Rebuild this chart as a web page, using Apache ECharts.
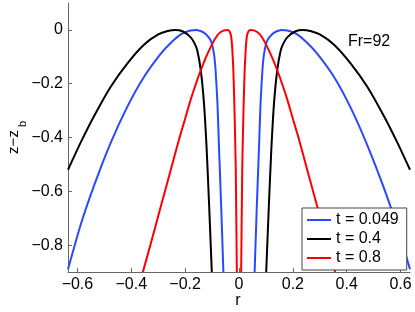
<!DOCTYPE html>
<html>
<head>
<meta charset="utf-8">
<script src="https://cdn.jsdelivr.net/npm/echarts@6/dist/echarts.min.js"></script>
<style>html,body{margin:0;padding:0;background:#fff}#c{width:415px;height:312px}</style>
</head>
<body>
<div id="c"></div>
<script>
var xTicks = [-0.6, -0.4, -0.2, 0, 0.2, 0.4, 0.6];
var yTicks = [-0.8, -0.6, -0.4, -0.2, 0];
var seriesNames = ['t = 0.049', 't = 0.4', 't = 0.8'];

var blueLeft = [[-0.635,-0.89],[-0.589,-0.728],[-0.539,-0.581],[-0.477,-0.421],[-0.415,-0.286],[-0.353,-0.175],[-0.291,-0.089],[-0.25,-0.045],[-0.21,-0.013],[-0.18,-0.002],[-0.158,0],[-0.138,-0.006],[-0.122,-0.017],[-0.105,-0.039],[-0.093,-0.089],[-0.087,-0.15],[-0.080,-0.273],[-0.074,-0.445],[-0.066,-0.66],[-0.058,-0.9]];
var blueRight = [[0.058,-0.9],[0.066,-0.66],[0.074,-0.445],[0.080,-0.273],[0.087,-0.15],[0.093,-0.089],[0.105,-0.039],[0.122,-0.017],[0.138,-0.006],[0.158,0],[0.18,-0.002],[0.21,-0.013],[0.25,-0.045],[0.291,-0.089],[0.353,-0.175],[0.415,-0.29],[0.477,-0.43],[0.539,-0.59],[0.589,-0.735],[0.635,-0.89]];

var blackLeft = [[-0.635,-0.52],[-0.589,-0.421],[-0.539,-0.322],[-0.477,-0.212],[-0.415,-0.125],[-0.353,-0.055],[-0.3,-0.017],[-0.265,-0.004],[-0.237,0],[-0.21,-0.005],[-0.18,-0.027],[-0.165,-0.05],[-0.155,-0.076],[-0.142,-0.15],[-0.130,-0.273],[-0.120,-0.445],[-0.111,-0.65],[-0.101,-0.9]];
var blackRight = [[0.101,-0.9],[0.111,-0.65],[0.120,-0.445],[0.130,-0.273],[0.142,-0.15],[0.155,-0.076],[0.165,-0.05],[0.18,-0.027],[0.21,-0.005],[0.237,0],[0.265,-0.004],[0.3,-0.017],[0.353,-0.055],[0.415,-0.125],[0.477,-0.212],[0.539,-0.322],[0.589,-0.421],[0.635,-0.52]];

var redLeft = [[-0.357,-0.9],[-0.328,-0.796],[-0.29,-0.655],[-0.256,-0.53],[-0.223,-0.408],[-0.2,-0.33],[-0.180,-0.261],[-0.16,-0.2],[-0.142,-0.150],[-0.122,-0.1],[-0.105,-0.064],[-0.09,-0.035],[-0.075,-0.014],[-0.058,-0.003],[-0.043,0],[-0.037,-0.003],[-0.033,-0.01],[-0.029,-0.025],[-0.025,-0.07],[-0.021,-0.15],[-0.018,-0.25],[-0.015,-0.37],[-0.012,-0.52],[-0.008,-0.9]];
var redRight = [[0.008,-0.9],[0.012,-0.52],[0.015,-0.37],[0.018,-0.25],[0.021,-0.15],[0.025,-0.07],[0.029,-0.025],[0.033,-0.01],[0.037,-0.003],[0.043,0],[0.058,-0.003],[0.075,-0.014],[0.09,-0.035],[0.105,-0.064],[0.122,-0.1],[0.142,-0.150],[0.16,-0.2],[0.180,-0.261],[0.2,-0.33],[0.223,-0.408],[0.256,-0.53],[0.29,-0.655],[0.328,-0.796],[0.357,-0.9]];

var colors = ['#2a48ff', '#000000', '#ff0000'];
var FONT = 'Liberation Sans, Arial, sans-serif';

function fmt(v) {
  var s = (Math.round(v * 10) / 10).toString();
  return s.replace('-', '\u2212');
}
function mk(name, left, right, color) {
  return {
    name: name, type: 'line', symbol: 'none', showSymbol: false, smooth: 0.2,
    connectNulls: false, clip: true,
    lineStyle: { color: color, width: 2 }, itemStyle: { color: color },
    data: left.concat([[null, null]], right)
  };
}

var chart = echarts.init(document.getElementById('c'));
chart.setOption({
  animation: false,
  backgroundColor: '#fff',
  grid: { left: 68, right: 5, top: 3, bottom: 40 },
  xAxis: {
    type: 'value', min: -0.635, max: 0.635,
    axisLine: { show: true, onZero: false, lineStyle: { color: '#666', width: 1 } },
    axisTick: { show: true, inside: true, length: 4, customValues: xTicks, lineStyle: { color: '#666' } },
    axisLabel: { customValues: xTicks, formatter: fmt, fontSize: 16, color: '#000', fontFamily: FONT, margin: 5 },
    splitLine: { show: false }
  },
  yAxis: {
    type: 'value', min: -0.9, max: 0.1,
    axisLine: { show: true, onZero: false, lineStyle: { color: '#666', width: 1 } },
    axisTick: { show: true, inside: true, length: 4, customValues: yTicks, lineStyle: { color: '#666' } },
    axisLabel: { customValues: yTicks, formatter: fmt, fontSize: 16, color: '#000', fontFamily: FONT, margin: 5 },
    splitLine: { show: false }
  },
  legend: {
    orient: 'vertical', left: 302, top: 208,
    data: seriesNames,
    icon: 'path://M0,0 L24,0 L24,2 L0,2 Z',
    itemWidth: 24, itemHeight: 2, itemGap: 3,
    padding: [4, 8, 4, 5],
    borderColor: '#444', borderWidth: 1, borderRadius: 0, backgroundColor: '#fff',
    textStyle: { fontSize: 16, color: '#000', fontFamily: FONT, lineHeight: 16 }
  },
  graphic: [
    { type: 'text', left: 348, top: 34, style: { text: 'Fr=92', fontSize: 16, fill: '#000', fontFamily: FONT } },
    { type: 'text', x: 238, y: 301, style: { text: 'r', fontSize: 16, fill: '#000', fontFamily: FONT, align: 'center', verticalAlign: 'middle' } },
    { type: 'text', x: 14, y: 142, rotation: Math.PI / 2, style: { text: 'z\u2212z', fontSize: 15, fill: '#000', fontFamily: FONT, align: 'center', verticalAlign: 'middle' } },
    { type: 'text', x: 23, y: 124, rotation: Math.PI / 2, style: { text: 'b', fontSize: 11, fill: '#000', fontFamily: FONT, align: 'center', verticalAlign: 'middle' } }
  ],
  series: [
    mk(seriesNames[0], blueLeft, blueRight, colors[0]),
    mk(seriesNames[1], blackLeft, blackRight, colors[1]),
    mk(seriesNames[2], redLeft, redRight, colors[2])
  ]
});
</script>
</body>
</html>
